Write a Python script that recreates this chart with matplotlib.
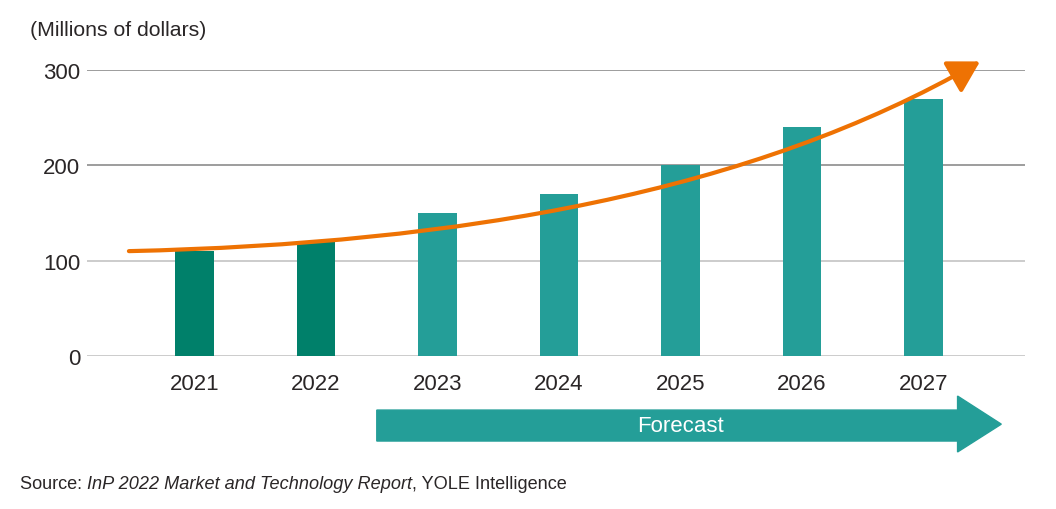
import numpy as np
import matplotlib
matplotlib.use('Agg')
import matplotlib.pyplot as plt
from matplotlib.path import Path
from matplotlib.patches import FancyArrowPatch, Polygon

plt.rcParams['font.family'] = ['Liberation Sans', 'DejaVu Sans']

# data
years = ['2021', '2022', '2023', '2024', '2025', '2026', '2027']
values = [110, 120, 150, 170, 200, 240, 270]
forecast = [False, False, True, True, True, True, True]
yticks = [0, 100, 200, 300]
# trend arrow bezier control points (x in bar index units, y in $M)
trend_x = [-0.54, 2.2, 4.6, 6.465]
trend_y = [110, 118, 172, 309]

DARK = '#00806A'
TEAL = '#249E98'
ORANGE = '#EE7203'
TXT = '#2A2627'

fig = plt.figure(figsize=(10.56, 5.10), dpi=100)
ax = fig.add_axes([87/1056, 1-357/510, (1025-87)/1056, (357-71)/510])

x = np.arange(len(years))
cols = [TEAL if f else DARK for f in forecast]
ax.bar(x, values, width=0.32, color=cols, zorder=2)

for v in yticks:
    c = '#8C8C8C' if v >= 200 else '#C4C4C4'
    ax.axhline(v, color=c, lw=1.2, zorder=1)

ax.set_xlim(-0.885, 6.835)
ax.set_ylim(0, 300)
ax.set_xticks(x)
ax.set_xticklabels(years, fontsize=16, color=TXT)
ax.set_yticks(yticks)
ax.set_yticklabels([str(v) for v in yticks], fontsize=16, color=TXT)
ax.tick_params(axis='x', length=0, pad=12)
ax.tick_params(axis='y', length=0, pad=5)
for s in ax.spines.values():
    s.set_visible(False)

# trend arrow
verts = list(zip(trend_x, trend_y))
path = Path(verts, [Path.MOVETO, Path.CURVE4, Path.CURVE4, Path.CURVE4])
arr = FancyArrowPatch(path=path, arrowstyle='-|>,head_length=0.95,head_width=0.55',
                      mutation_scale=20, color=ORANGE, lw=3.0, zorder=3,
                      clip_on=False, shrinkA=0, shrinkB=0)
ax.add_patch(arr)

# forecast arrow
fx0, fx1, fxh = 1.50, 6.64, 6.28
poly = [(fx0, -56.7), (fxh, -56.7), (fxh, -42), (fx1, -71.5),
        (fxh, -100.7), (fxh, -89.2), (fx0, -89.2)]
ax.add_patch(Polygon(poly, closed=True, color=TEAL, clip_on=False, zorder=2))
ax.text(4.0, -72.5, 'Forecast', color='white', fontsize=16,
        ha='center', va='center')

fig.text(30/1056, 1-31/510, '(Millions of dollars)', fontsize=15.3, color=TXT,
         va='center', ha='left')

# source line
r = fig.canvas.get_renderer()
parts = [('Source: ', 'normal'), ('InP 2022 Market and Technology Report', 'italic'),
         (', YOLE Intelligence', 'normal')]
px = 20
for s, st in parts:
    t = fig.text(px/1056, 1-485/510, s, fontsize=13.1, style=st, color=TXT, va='center')
    px += t.get_window_extent(r).width

fig.savefig('out.png', dpi=100, facecolor='white')
